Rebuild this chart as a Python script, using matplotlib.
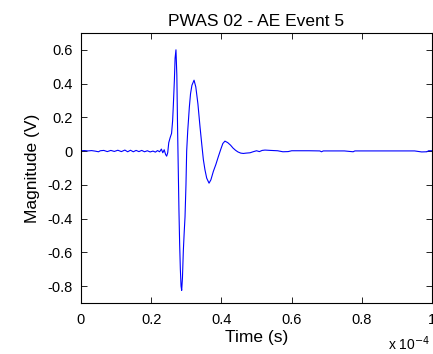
import numpy as np
import matplotlib
matplotlib.use("Agg")
import matplotlib.pyplot as plt

plt.rcParams['font.family'] = ['Liberation Sans', 'DejaVu Sans']
plt.rcParams['axes.unicode_minus'] = False

# time in units of 1e-4 s, magnitude in volts
time_e4 = [
    0.000, 0.010, 0.020, 0.030, 0.040, 0.050, 0.055, 0.065, 0.075, 0.085,
    0.095, 0.105, 0.115, 0.125, 0.133, 0.141, 0.149, 0.157, 0.165, 0.173,
    0.181, 0.189, 0.197, 0.205, 0.212, 0.218, 0.224, 0.229, 0.233, 0.237,
    0.241, 0.244, 0.247, 0.250, 0.254, 0.258, 0.261, 0.263, 0.266, 0.268,
    0.2705, 0.273, 0.275, 0.277, 0.279, 0.281, 0.283, 0.285, 0.2868, 0.289,
    0.2915, 0.294, 0.2963, 0.299, 0.301, 0.304, 0.306, 0.3086, 0.312, 0.316,
    0.322, 0.327, 0.333, 0.339, 0.344, 0.3485, 0.353, 0.358, 0.3647, 0.370,
    0.377, 0.384, 0.391, 0.398, 0.404, 0.410, 0.418, 0.426, 0.433, 0.440,
    0.447, 0.455, 0.4625, 0.470, 0.4815, 0.490, 0.500, 0.508, 0.516, 0.524,
    0.540, 0.560, 0.575, 0.590, 0.600, 0.650, 0.680, 0.685, 0.690, 0.750,
    0.775, 0.780, 0.850, 0.950, 0.970, 0.985, 0.990, 1.000,
]
magnitude = [
    0.002, 0.003, 0.001, 0.003, 0.000, -0.004, 0.002, 0.004, -0.003, 0.004,
    -0.002, 0.005, -0.003, 0.006, -0.004, 0.005, -0.004, 0.004, -0.003, 0.004,
    -0.004, 0.002, -0.005, 0.000, -0.006, 0.003, -0.004, 0.012, -0.010, 0.008,
    -0.020, -0.030, -0.010, 0.050, 0.080, 0.105, 0.180, 0.270, 0.420, 0.550,
    0.600, 0.450, 0.150, -0.100, -0.350, -0.550, -0.700, -0.800, -0.825, -0.750,
    -0.590, -0.480, -0.390, -0.200, 0.000, 0.120, 0.180, 0.260, 0.340, 0.390,
    0.420, 0.380, 0.280, 0.144, 0.040, -0.050, -0.110, -0.160, -0.190, -0.170,
    -0.120, -0.080, -0.034, 0.010, 0.045, 0.059, 0.050, 0.035, 0.018, 0.005,
    -0.005, -0.012, -0.014, -0.012, -0.010, -0.004, 0.002, -0.003, 0.004, 0.006,
    0.004, 0.002, -0.004, -0.003, 0.002, 0.002, 0.001, -0.004, 0.001, 0.001,
    -0.004, 0.001, 0.001, 0.001, -0.005, -0.004, 0.002, 0.002,
]

x_ticks = [0, 0.2, 0.4, 0.6, 0.8, 1]
x_tick_labels = ['0', '0.2', '0.4', '0.6', '0.8', '1']
y_ticks = [-0.8, -0.6, -0.4, -0.2, 0, 0.2, 0.4, 0.6]
y_tick_labels = ['-0.8', '-0.6', '-0.4', '-0.2', '0', '0.2', '0.4', '0.6']

fig = plt.figure(figsize=(4.33, 3.54), dpi=100)
ax = fig.add_axes([0.187, 0.144, 0.811, 0.763])
ax.plot(time_e4, magnitude, color='#0000ff', linewidth=0.8)

ax.set_xlim(0, 1)
ax.set_ylim(-0.9, 0.7)
ax.set_xticks(x_ticks)
ax.set_xticklabels(x_tick_labels)
ax.set_yticks(y_ticks)
ax.set_yticklabels(y_tick_labels)
ax.tick_params(direction='in', length=4, width=0.6, labelsize=10.5,
               top=True, right=True)
ax.tick_params(axis='x', pad=7)
ax.tick_params(axis='y', pad=6)
for s in ax.spines.values():
    s.set_linewidth(0.8)

ax.set_title('PWAS 02 - AE Event 5', fontsize=12.5, pad=5)
ax.set_xlabel('Time (s)', fontsize=12.5, labelpad=2)
ax.set_ylabel('Magnitude (V)', fontsize=12.5, labelpad=5)
fig.text(0.994, 0.012, 'x 10$^{-4}$', fontsize=10, ha='right')

fig.savefig('out.png', dpi=100)
